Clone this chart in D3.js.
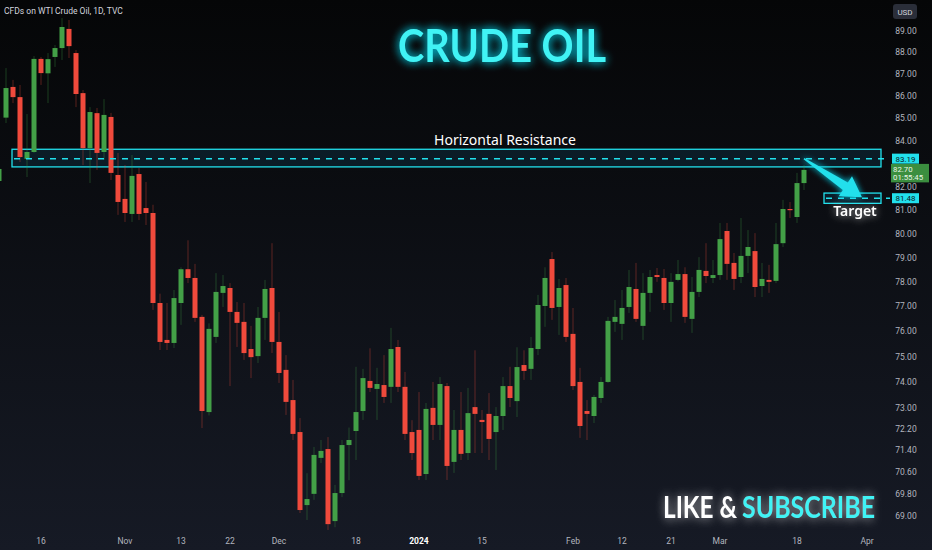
<!DOCTYPE html>
<html><head><meta charset="utf-8">
<script src="https://cdn.jsdelivr.net/npm/d3@7"></script>
<style>html,body{margin:0;padding:0;background:#0b0c0f;overflow:hidden}</style>
</head><body><svg id="c" width="932" height="550"></svg>
<script>
// ---- DATA ----
const openP  = [82.22,85.0,86.38,85.92,83.18,83.48,87.66,87.0,87.75,88.16,89.05,87.93,86.1,83.65,85.2,83.48,85.03,82.48,81.45,80.81,82.52,81.06,80.85,77.12,75.64,75.52,77.12,78.5,78.14,76.56,72.83,75.76,77.53,77.73,76.76,76.36,75.28,75.0,76.52,77.73,75.56,74.46,73.29,72.07,69.36,69.77,71.1,71.43,68.78,69.8,71.58,72.11,72.87,74.03,73.72,73.87,73.8,75.36,73.8,72.07,72.15,70.5,72.99,72.34,73.83,70.95,72.15,71.28,73.02,72.53,72.76,72.07,72.68,73.83,73.25,74.65,74.5,75.28,77.0,78.92,76.96,77.85,75.88,73.99,72.87,72.68,73.37,73.99,76.36,76.28,76.96,77.69,76.2,77.53,78.26,78.14,77.12,78.06,78.3,76.48,77.57,78.43,78.14,78.26,80.09,78.76,78.18,79.05,79.25,77.81,78.06,78.02,79.58,81.02,80.68,82.13];
const highP  = [82.9,87.24,86.7,86.47,85.16,87.79,87.75,87.93,88.3,89.56,89.47,88.07,86.24,85.47,85.43,85.83,85.21,83.44,82.91,83.35,82.78,82.18,81.2,77.5,77.12,77.65,78.58,79.7,78.72,76.64,76.3,78.34,78.26,77.93,77.16,77.12,76.2,76.96,78.06,79.58,76.76,75.04,74.07,72.6,70.53,71.51,71.77,71.88,70.1,71.77,72.24,74.58,74.5,75.31,74.54,75.04,76.12,75.64,74.38,72.52,73.6,73.18,73.99,74.18,73.95,72.91,73.6,73.76,75.23,72.91,73.56,73.02,74.18,74.58,75.35,75.23,75.76,77.45,78.58,79.21,78.1,78.14,76.92,74.54,73.29,73.49,74.18,76.56,77.24,77.65,78.47,78.76,78.34,78.47,78.55,78.51,78.34,78.88,78.58,78.18,79.0,79.58,78.88,80.43,80.43,79.17,80.64,80.13,80.0,78.76,78.68,80.43,81.41,81.32,82.57,82.91];
const lowP   = [82.0,84.76,85.65,83.04,82.39,83.44,86.47,85.65,87.29,87.61,87.7,85.47,82.91,82.13,82.7,83.13,82.26,80.77,80.47,80.47,80.55,80.34,76.84,75.24,75.24,75.32,76.24,77.93,76.36,72.22,72.7,75.52,76.96,73.83,75.36,74.85,74.14,74.73,75.64,75.12,73.95,72.72,71.77,69.07,68.82,69.55,70.91,68.46,68.56,69.65,70.27,71.02,72.53,73.6,72.53,73.18,73.18,73.6,71.77,71.02,70.28,70.28,71.77,71.77,70.28,70.54,71.02,71.02,71.28,71.28,71.02,70.65,72.15,73.02,72.64,74.07,74.07,75.04,76.16,76.44,75.84,75.56,73.68,71.85,71.77,72.41,73.18,73.95,75.96,75.64,76.72,76.36,75.64,76.76,77.98,76.84,76.36,78.0,76.32,75.92,77.36,77.93,77.93,78.06,78.06,77.65,77.93,78.34,77.36,77.36,77.53,77.93,79.42,80.64,80.43,81.83];
const closeP = [82.74,86.33,85.92,83.26,83.48,87.66,87.01,87.65,88.16,89.14,88.25,86.06,83.65,85.25,83.44,85.12,82.57,81.32,80.85,82.44,80.81,80.85,77.12,75.56,75.52,77.32,78.5,78.14,76.52,72.87,76.08,77.57,77.81,76.76,76.32,75.12,74.96,76.52,77.69,75.56,74.34,73.22,72.0,69.18,69.58,71.21,71.36,68.67,69.8,71.58,71.77,72.83,74.14,73.76,73.91,73.41,75.28,73.8,72.0,71.28,70.43,72.95,72.34,73.91,70.8,72.15,71.25,72.79,72.76,72.45,71.81,72.68,73.83,73.37,74.57,74.42,75.32,77.04,78.14,76.92,77.73,75.76,73.83,72.3,72.76,73.41,73.99,76.4,76.56,76.92,77.77,76.48,77.53,78.18,78.18,77.12,77.98,78.3,76.56,77.57,78.47,78.22,78.26,79.75,78.72,78.1,79.05,79.42,77.77,78.1,77.98,79.54,81.02,80.98,82.13,82.7];
const firstDate = "2023-10-06", lastAxisDate = "2024-04-10";
const holidays = ["2023-12-25","2024-01-01"];
const yTicks = [89,88,87,86,85,84,82,81,80,79,78,77,76,75,74,73,72.2,71.4,70.6,69.8,69];
const xTickDates  = ["2023-10-16","2023-11-01","2023-11-13","2023-11-22","2023-12-01","2023-12-18","2024-01-02","2024-01-15","2024-02-01","2024-02-12","2024-02-21","2024-03-01","2024-03-18","2024-04-01"];
const xTickLabels = ["16","Nov","13","22","Dec","18","2024","15","Feb","12","21","Mar","18","Apr"];
const resistance = {level:83.19, top:83.6, bottom:82.83, from:"2023-10-10", to:"2024-04-03", label:"Horizontal Resistance"};
const target = {level:81.48, top:81.7, bottom:81.26, from:"2024-03-22", to:"2024-04-03", label:"Target"};
const arrowFrom = {date:"2024-03-19", price:83.19};
const arrowTo   = {date:"2024-03-29", price:81.52};
const lastPrice = 82.70, countdown = "01:55:45";
const title = "CRUDE OIL", symbolLine = "CFDs on WTI Crude Oil, 1D, TVC";
const cta1 = "LIKE &", cta2 = "SUBSCRIBE";

// ---- BUILD ----
const fmtD = d3.timeFormat("%Y-%m-%d"), parseD = d3.timeParse("%Y-%m-%d");
const days = d3.timeDay.range(parseD(firstDate), d3.timeDay.offset(parseD(lastAxisDate),1))
  .filter(d => d.getDay()!==0 && d.getDay()!==6 && !holidays.includes(fmtD(d)));
const idxOf = s => days.findIndex(d => fmtD(d)===s);
const candles = openP.map((o,i)=>({i, o, h:highP[i], l:lowP[i], c:closeP[i]}));

const W=932,H=550, plotRight=884;
const x = d3.scaleLinear().domain([0,1]).range([-1,6]);
const y = d3.scaleLog().domain([69,89]).range([515,30]);
const svg = d3.select("#c");
const defs = svg.append("defs");
const bg = defs.append("linearGradient").attr("id","bg").attr("x1",0).attr("y1",0).attr("x2",0).attr("y2",1);
bg.append("stop").attr("offset","0%").attr("stop-color","#050607");
bg.append("stop").attr("offset","100%").attr("stop-color","#161a25");
function glow(id, sd, color, op){
  const f = defs.append("filter").attr("id",id).attr("x","-30%").attr("y","-60%").attr("width","160%").attr("height","220%");
  f.append("feGaussianBlur").attr("in","SourceAlpha").attr("stdDeviation",sd).attr("result","b");
  f.append("feFlood").attr("flood-color",color).attr("flood-opacity",op);
  f.append("feComposite").attr("in2","b").attr("operator","in").attr("result","g");
  const m=f.append("feMerge"); m.append("feMergeNode").attr("in","g"); m.append("feMergeNode").attr("in","g"); m.append("feMergeNode").attr("in","SourceGraphic");
}
glow("glowC",5,"#00e5ff",0.6);
glow("glowW",4,"#ffffff",0.35);
glow("glowS",3,"#00e5ff",0.5);
defs.append("clipPath").attr("id","plot").append("rect").attr("x",0).attr("y",0).attr("width",plotRight).attr("height",H);

svg.append("rect").attr("width",W).attr("height",H).attr("fill","url(#bg)");

const UP="#43a047", DN="#f04a3c";
const g = svg.append("g").attr("clip-path","url(#plot)");
const CY="#22e0ec";
function zone(z){
  const x0=x(idxOf(z.from))-1, x1=x(idxOf(z.to));
  g.append("rect").attr("x",x0).attr("y",y(z.top)).attr("width",x1-x0).attr("height",y(z.bottom)-y(z.top))
    .attr("fill","#0c2a3a").attr("fill-opacity",0.55).attr("stroke",CY).attr("stroke-width",1.3);
}
zone(resistance); zone(target);
// candles
const cg = g.append("g");
cg.selectAll("line.w").data(candles).join("line")
  .attr("x1",d=>x(d.i)).attr("x2",d=>x(d.i)).attr("y1",d=>y(d.h)).attr("y2",d=>y(d.l))
  .attr("stroke",d=>d.c>=d.o?UP:DN).attr("stroke-opacity",0.35).attr("stroke-width",1);
cg.selectAll("rect.b").data(candles).join("rect")
  .attr("x",d=>x(d.i)-2.5).attr("width",5)
  .attr("y",d=>y(Math.max(d.o,d.c)))
  .attr("height",d=>Math.max(1.2,Math.abs(y(d.o)-y(d.c))))
  .attr("fill",d=>d.c>=d.o?UP:DN);
// dashed levels
[resistance,target].forEach(z=>{
  svg.append("line").attr("x1",x(idxOf(z.from))+1).attr("x2",890).attr("y1",y(z.level)).attr("y2",y(z.level))
    .attr("stroke",CY).attr("stroke-width",1.5).attr("stroke-dasharray","6,6");
});
// arrow
(function(){
  const sx=x(idxOf(arrowFrom.date)), sy=y(arrowFrom.price), ex=x(idxOf(arrowTo.date))+2, ey=y(arrowTo.price);
  const dx=ex-sx, dy=ey-sy, L=Math.hypot(dx,dy), ux=dx/L, uy=dy/L, nx=-uy, ny=ux;
  const hb=L-20, P=(t,w)=>[sx+ux*t+nx*w, sy+uy*t+ny*w];
  const pts=[P(0,-0.8),P(hb,-4.5),P(hb,-12),P(L,0),P(hb,12),P(hb,4.5),P(0,0.8)];
  svg.append("polygon").attr("points",pts.map(p=>p.join(",")).join(" ")).attr("fill",CY).attr("filter","url(#glowS)");
})();
// texts
svg.append("text").attr("x",505).attr("y",y(resistance.top)-4).attr("text-anchor","middle")
  .attr("font-family","Noto Sans, Open Sans, sans-serif").attr("font-size",14).attr("fill","#ffffff").text(resistance.label);
svg.append("text").attr("x",855).attr("y",y(target.bottom)+13).attr("text-anchor","middle")
  .attr("font-family","Noto Sans, Open Sans, sans-serif").attr("font-weight",600).attr("font-size",14).attr("fill","#ffffff").attr("filter","url(#glowW)").text(target.label);
svg.append("text").attr("x",502).attr("y",62).attr("text-anchor","middle")
  .attr("font-family","Lato, Noto Sans, sans-serif").attr("font-weight",700).attr("font-size",46)
  .attr("textLength",208).attr("lengthAdjust","spacingAndGlyphs")
  .attr("fill","#3ff3f5").attr("filter","url(#glowC)").text(title);
function cta(txt, x0, len, color){
  svg.append("g").attr("transform",`translate(${x0},518) scale(1,1.35)`)
    .append("text").attr("x",0).attr("y",0).attr("font-family","Lato, Noto Sans, sans-serif").attr("font-weight",700).attr("font-size",23)
    .attr("textLength",len).attr("lengthAdjust","spacingAndGlyphs").attr("fill",color).attr("filter","url(#glowW)").text(txt);
}
cta(cta1, 663, 74, "#ffffff");
cta(cta2, 742, 133, "#3ff3f5");
svg.append("text").attr("x",4).attr("y",14).attr("font-family","Roboto, sans-serif").attr("font-size",8.5).attr("fill","#d1d4dc").text(symbolLine);

// y axis
const ya = svg.append("g").attr("font-family","Roboto, sans-serif").attr("font-size",8.5).attr("fill","#b2b5be");
ya.selectAll("text").data(yTicks).join("text").attr("x",906).attr("y",d=>y(d)+3.5).attr("text-anchor","middle").text(d=>d3.format(".2f")(d));
// USD box
svg.append("rect").attr("x",893).attr("y",4).attr("width",24).attr("height",15).attr("rx",3).attr("fill","#2a2e39");
svg.append("text").attr("x",905).attr("y",14.5).attr("text-anchor","middle").attr("font-family","Roboto, sans-serif").attr("font-size",8).attr("fill","#d1d4dc").text("USD");
// price tags
function tag(p){
  svg.append("rect").attr("x",892).attr("y",y(p)-5).attr("width",27).attr("height",10).attr("fill",CY);
  svg.append("text").attr("x",905.5).attr("y",y(p)+3).attr("text-anchor","middle").attr("font-family","Roboto, sans-serif").attr("font-size",8).attr("fill","#0b1a24").text(d3.format(".2f")(p));
}
svg.append("rect").attr("x",891).attr("y",y(lastPrice)-6).attr("width",38).attr("height",18.5).attr("fill","#3b8e3f");
svg.append("text").attr("x",893).attr("y",y(lastPrice)+2.5).attr("font-family","Roboto, sans-serif").attr("font-size",7.8).attr("fill","#e8f5e9").text(d3.format(".2f")(lastPrice));
svg.append("text").attr("x",893).attr("y",y(lastPrice)+10).attr("font-family","Roboto, sans-serif").attr("font-size",7.8).attr("fill","#e8f5e9").text(countdown);
tag(resistance.level); tag(target.level);
// x axis
const xa = svg.append("g").attr("font-family","Roboto, sans-serif").attr("font-size",8.5);
xa.selectAll("text").data(xTickDates).join("text").attr("x",d=>x(idxOf(d))).attr("y",544).attr("text-anchor","middle")
  .attr("fill",(d,i)=>xTickLabels[i]==="2024"?"#ffffff":"#b2b5be").attr("font-weight",(d,i)=>xTickLabels[i]==="2024"?700:400)
  .text((d,i)=>xTickLabels[i]);
</script></body></html>
